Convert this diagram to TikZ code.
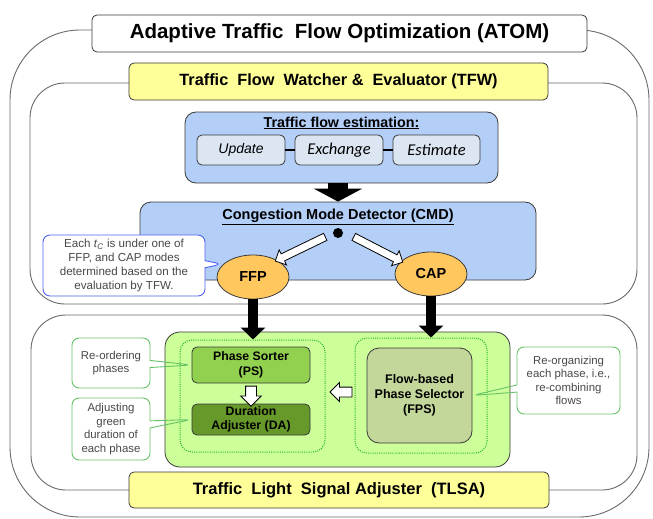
\documentclass[tikz,border=0pt]{standalone}
\usepackage{fontspec}
\setmainfont{Liberation Sans}
\newfontfamily\calibri{Carlito}
\usetikzlibrary{arrows.meta,shapes.geometric,shapes.arrows,shapes.callouts,calc}

\definecolor{framegray}{HTML}{6A6A6A}
\definecolor{edgedark}{HTML}{3A3A3A}
\definecolor{titleyellow}{HTML}{FFFF99}
\definecolor{cmdblue}{HTML}{B3CFF7}
\definecolor{subblue}{HTML}{DCE6F2}
\definecolor{modeorange}{HTML}{FFC75E}
\definecolor{tlsagreen}{HTML}{CCFF99}
\definecolor{dotgreen}{HTML}{22B822}
\definecolor{psgreen}{HTML}{92D050}
\definecolor{dagreen}{HTML}{66982A}
\definecolor{fpsolive}{HTML}{C4D79B}
\definecolor{notegreen}{HTML}{66C266}
\definecolor{noteblue}{HTML}{5060F0}
\definecolor{notegray}{HTML}{484848}

\tikzset{
  frame/.style={draw=framegray, line width=0.9pt},
  titlebox/.style={draw=edgedark, line width=0.8pt, rounded corners=5pt, inner sep=0pt, font=\bfseries},
  bluebox/.style={draw=edgedark, line width=0.8pt, fill=cmdblue, rounded corners=11pt, inner sep=0pt},
  subbox/.style={draw=edgedark, line width=0.8pt, fill=subblue, rounded corners=5pt, inner sep=0pt,
    minimum height=30pt, font=\fontsize{14}{16}\selectfont\itshape},
  modenode/.style={ellipse, draw=edgedark, line width=0.8pt, fill=modeorange, inner sep=0pt,
    minimum width=72pt, minimum height=44pt, font=\fontsize{14.5}{16}\selectfont\bfseries},
  dotframe/.style={draw=dotgreen, line width=1pt, dash pattern=on 1pt off 1.2pt, rounded corners=12pt, inner sep=0pt},
  greenbox/.style={draw=edgedark, line width=0.8pt, rounded corners=5pt, inner sep=0pt, align=center,
    font=\fontsize{12.3}{14.5}\selectfont\bfseries},
  greennote/.style={rectangle callout, draw=notegreen, line width=0.9pt, rounded corners=7pt,
    inner sep=0pt, align=center, text=notegray, font=\fontsize{11.4}{13.6}\selectfont},
  blackarrow/.style={line width=10pt, -{Triangle[width=24pt,length=12pt]}},
  hollow/.style={single arrow, draw=black, line width=0.8pt, fill=white, inner sep=0pt,
    single arrow head indent=0pt},
}

% outline block arrow from #1 to #2, shaft width #3, head overhang #4
\newcommand\hollowarrow[4]{%
  \path let \p1=($(#2)-(#1)$), \n1={atan2(\y1,\x1)}, \n2={veclen(\x1,\y1)} in
    node[hollow, minimum height=\n2, single arrow head extend=#4, rotate=\n1]
    at ($(#1)!0.5!(#2)$) {\rule{0pt}{#3}};}

\begin{document}
\begin{tikzpicture}[x=1pt,y=-1pt]
\useasboundingbox (0,0) rectangle (653,519);

% nested module frames
\draw[frame, rounded corners=70pt] (10,30) rectangle (649,517);
\draw[frame, rounded corners=35pt] (30,83) rectangle (637,304);
\draw[frame, rounded corners=35pt] (31,315) rectangle (637,490);

% module titles
\node[titlebox, fill=white, minimum width=495pt, minimum height=37pt,
      font=\fontsize{20.5}{24}\selectfont\bfseries] (atom) at (339.5,33.5)
      {Adaptive Traffic\ \ Flow Optimization (ATOM)};
\node[titlebox, fill=titleyellow, minimum width=419pt, minimum height=37pt,
      font=\fontsize{16.3}{19}\selectfont\bfseries] (tfw) at (338.5,81.5)
      {Traffic\ \ Flow\ \ Watcher \&\ \ Evaluator (TFW)};

% traffic flow estimation
\node[bluebox, minimum width=313pt, minimum height=71pt] (tfe) at (341.5,147.5) {};
\node[font=\fontsize{14.3}{16}\selectfont\bfseries, inner sep=0pt] (tfetitle) at (341.5,123)
      {\underline{Traffic flow estimation:}};
\node[subbox, minimum width=88pt] (upd) at (241,150) {Update};
\node[subbox, minimum width=88pt, font=\fontsize{16.5}{18}\selectfont\calibri\itshape] (exch) at (339,150) {Exchange};
\node[subbox, minimum width=87pt, font=\fontsize{16.5}{18}\selectfont\calibri\itshape] (est) at (436.5,150) {Estimate};
\draw[line width=2.5pt] (upd) -- (exch);
\draw[line width=2.5pt] (exch) -- (est);

% congestion mode detector
\node[bluebox, minimum width=396pt, minimum height=78pt] (cmd) at (338,241) {};
\node[font=\fontsize{14.5}{16}\selectfont\bfseries, inner sep=0pt] (cmdtitle) at (338,217)
      {\underline{Congestion Mode Detector (CMD)}};
\node[circle, fill=black, minimum size=10pt, inner sep=0pt] (split) at (338,233) {};
\draw[line width=20pt, -{Triangle[width=48pt,length=13pt]}] (split |- tfe.south) -- (split |- cmd.north);

% explanation of the modes
\node[rectangle callout, draw=noteblue, line width=0.9pt, fill=white, rounded corners=7pt,
      minimum width=162pt, minimum height=61pt, inner sep=0pt, align=center, text=notegray,
      font=\fontsize{11.6}{13.7}\selectfont, callout absolute pointer={(222,264)}] (cmdnote) at (124,265.5)
      {Each \textit{t}\textsubscript{\textit{C}} is under one of\\FFP, and CAP modes\\determined based on the\\evaluation by TFW.};

% congestion modes
\node[modenode] (ffp) at (253,277) {FFP};
\node[modenode] (cap) at (431,274) {CAP};
\coordinate (toffp) at ($(split)+(-11,3)$);
\coordinate (tocap) at ($(split)+(14,3)$);
\hollowarrow{toffp}{ffp.35}{7pt}{4.5pt}
\hollowarrow{tocap}{cap.157}{7pt}{4.5pt}

% traffic light signal adjuster
\node[draw=edgedark, line width=0.8pt, fill=tlsagreen, rounded corners=15pt, inner sep=0pt,
      minimum width=345pt, minimum height=135pt] (tlsa) at (337.5,399.5) {};
\node[dotframe, minimum width=145pt, minimum height=112pt] (leftdot) at (252.5,396) {};
\node[dotframe, minimum width=132pt, minimum height=115pt] (rightdot) at (421,395.5) {};
\node[greenbox, fill=psgreen, minimum width=118pt, minimum height=36pt] (ps) at (251,365) {Phase Sorter\\(PS)};
\node[greenbox, fill=dagreen, minimum width=118pt, minimum height=31pt] (da) at (251,419.5) {Duration\\Adjuster (DA)};
\node[greenbox, fill=fpsolive, rounded corners=12pt, minimum width=105pt, minimum height=95pt,
      font=\fontsize{12.5}{15}\selectfont\bfseries] (fps) at (419.5,395.5)
      {Flow-based\\Phase Selector\\(FPS)};
\hollowarrow{ps.south}{da.north}{10pt}{5pt}
\coordinate (fpstip) at ($(leftdot.east)+(7,-4)$);
\hollowarrow{rightdot.west |- fpstip}{fpstip}{9pt}{4.5pt}

\draw[blackarrow] (ffp.south) -- (ffp.south |- leftdot.north);
\draw[blackarrow] (cap.south) -- (cap.south |- rightdot.north);

% notes on the sub-modules
\node[greennote, minimum width=78pt, minimum height=50pt, callout absolute pointer={(ps.west)}] (reorder) at (111,363)
      {Re-ordering\\phases};
\node[greennote, minimum width=78pt, minimum height=62pt, callout absolute pointer={(da.west)}] (adjust) at (111,429)
      {Adjusting\\green\\duration of\\each phase};
\node[greennote, minimum width=103pt, minimum height=67pt, callout absolute pointer={(fps.east)}] (reorg) at (568.5,380.5)
      {Re-organizing\\each phase, i.e.,\\re-combining\\flows};

\node[titlebox, fill=titleyellow, minimum width=420pt, minimum height=36pt,
      font=\fontsize{16.5}{19}\selectfont\bfseries] (tlsat) at (339,490)
      {Traffic\ \ Light\ \ Signal Adjuster\ \ (TLSA)};
\end{tikzpicture}
\end{document}
